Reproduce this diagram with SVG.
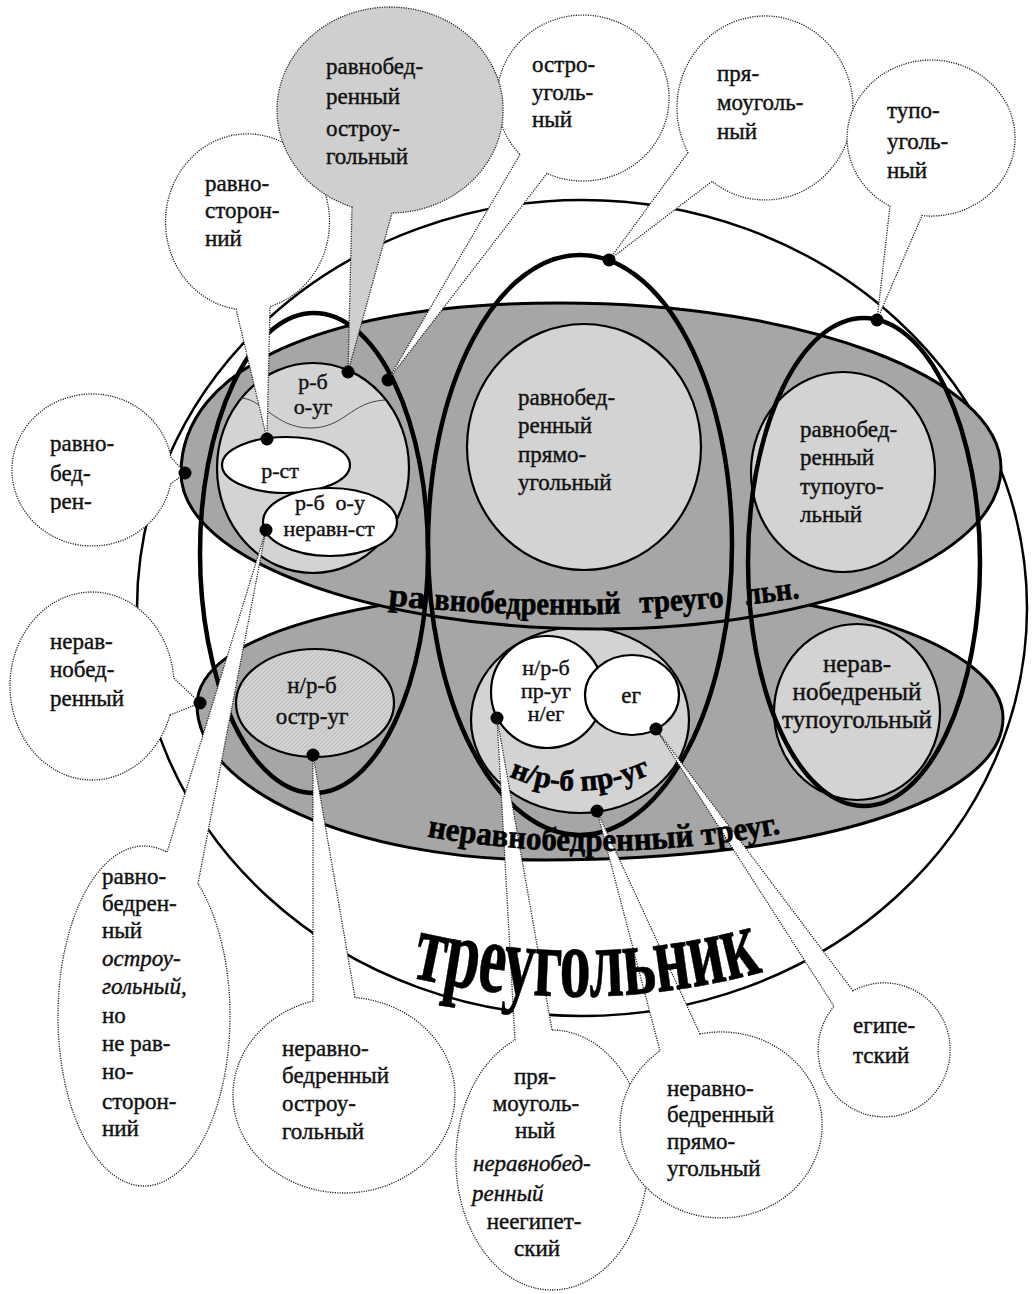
<svg xmlns="http://www.w3.org/2000/svg" width="1034" height="1294" viewBox="0 0 1034 1294">
  <style>
    .t { font-family: "Liberation Serif", "DejaVu Serif Condensed", "DejaVu Serif", serif; font-size: 23px; fill: #111; stroke: #111; stroke-width: 0.4; }
    .s { font-size: 22px; }
    .m { text-anchor: middle; }
    .i { font-style: italic; }
    .b { font-family: "Liberation Serif", "DejaVu Serif Condensed", "DejaVu Serif", serif; font-weight: bold; fill: #000; stroke: #000; stroke-width: 0.6; }
    .outer { fill: none; stroke: #000; stroke-width: 2.5; }
    .grey { fill: #a6a6a6; stroke: #000; stroke-width: 3; }
    .light { fill: #d3d3d3; stroke: #000; stroke-width: 2.2; }
    .white { fill: #fff; stroke: #000; stroke-width: 2.2; }
    .set { fill: none; stroke: #000; stroke-width: 4.5; }
    .co { fill: #fff; stroke: #222; stroke-width: 1.3; stroke-dasharray: 1.2 1.2; }
    .co.g { fill: #cfcfcf; }
    .dot { fill: #000; }
  </style>
  <defs>
    <pattern id="hatch" width="4" height="4" patternUnits="userSpaceOnUse">
      <rect width="4" height="4" fill="#d2d2d2"/>
      <path d="M0 4 L4 0" stroke="#b4b4b4" stroke-width="0.8"/>
    </pattern>
    <clipPath id="clipRb">
      <rect x="0" y="380" width="200" height="133"/>
    </clipPath>
    <path id="arcR" d="M 385 605 Q 592 627 800 598"/>
    <path id="arcN" d="M 425 836 Q 600 868 790 832"/>
    <path id="arcP" d="M 500 772 Q 580 812 665 767"/>
    <path id="arcT" d="M 405 976 Q 590 1020 770 970"/>
  </defs>

  <!-- outer set: all triangles -->
  <ellipse id="triangle" class="outer" cx="582" cy="608" rx="445" ry="408"/>

  <!-- scalene triangles (lower band) -->
  <g id="scalene">
    <path class="grey" d="M 197 705 C 197 634.8 366.2 588 620 588 C 830.7 588 1003 646.5 1003 718 C 1003 800 815 860 545 860 C 353.6 860 197 789.2 197 705 Z"/>
    <ellipse id="scalene-acute" cx="315" cy="703" rx="79" ry="54" fill="url(#hatch)" stroke="#000" stroke-width="2.2"/>
    <text class="t m" x="312" y="693">н/р-б</text>
    <text class="t m" x="312" y="724">остр-уг</text>
    <g id="scalene-right">
      <ellipse class="light" cx="580" cy="720" rx="109" ry="93"/>
      <circle class="white" cx="547" cy="692" r="56"/>
      <ellipse class="white" cx="632" cy="695" rx="47" ry="40"/>
      <text class="t s m" x="546" y="675">н/р-б</text>
      <text class="t s m" x="546" y="698">пр-уг</text>
      <text class="t s m" x="546" y="721">н/ег</text>
      <text class="t m" x="631" y="703">ег</text>
    </g>
    <g id="scalene-obtuse">
      <ellipse class="light" cx="857" cy="712" rx="83" ry="88"/>
      <text class="t m" x="857" y="672" style="font-size:25px">нерав-</text>
      <text class="t m" x="857" y="700" style="font-size:25px">нобедреный</text>
      <text class="t m" x="857" y="728" style="font-size:25px">тупоугольный</text>
    </g>
  </g>

  <!-- isosceles triangles (upper band) -->
  <g id="isosceles">
    <path class="grey" d="M 181 473 C 181 367.6 325 303 560 303 C 802.6 303 1001 377.3 1001 468 C 1001 556.6 820.6 629 600 629 C 369.5 629 181 558.8 181 473 Z"/>
    <g id="isosceles-acute">
      <ellipse class="light" cx="313" cy="468" rx="96" ry="105"/>
      <path d="M 240 398 C 262 398 275 428 310 428 C 345 428 350 402 385 400" fill="none" stroke="#444" stroke-width="1"/>
      <text class="t s m" x="313" y="389">р-б</text>
      <text class="t s m" x="313" y="414">о-уг</text>
      <ellipse class="white" cx="286" cy="465" rx="64" ry="28"/>
      <text class="t s m" x="280" y="478">р-ст</text>
      <ellipse class="white" cx="330" cy="522" rx="67" ry="34"/>
      <text class="t s m" x="330" y="510" xml:space="preserve">р-б  о-у</text>
      <text class="t s m" x="329" y="536">неравн-ст</text>
    </g>
    <g id="isosceles-right">
      <ellipse class="light" cx="584" cy="447" rx="117" ry="123"/>
      <text class="t" x="518" y="405">равнобед-</text>
      <text class="t" x="518" y="433">ренный</text>
      <text class="t" x="518" y="462">прямо-</text>
      <text class="t" x="518" y="490">угольный</text>
    </g>
    <g id="isosceles-obtuse">
      <ellipse class="light" cx="843" cy="472" rx="92" ry="100"/>
      <text class="t" x="800" y="437">равнобед-</text>
      <text class="t" x="800" y="465">ренный</text>
      <text class="t" x="800" y="494">тупоуго-</text>
      <text class="t" x="800" y="522">льный</text>
    </g>
    <text class="b" style="font-size:32px"><textPath href="#arcR" startOffset="3" textLength="37" lengthAdjust="spacingAndGlyphs">ра</textPath></text>
    <text class="b" style="font-size:32px"><textPath href="#arcR" startOffset="49" textLength="187" lengthAdjust="spacingAndGlyphs">внобедренный</textPath></text>
    <text class="b" style="font-size:32px"><textPath href="#arcR" startOffset="255" textLength="85" lengthAdjust="spacingAndGlyphs">треуго</textPath></text>
    <text class="b" style="font-size:32px"><textPath href="#arcR" startOffset="362" textLength="54" lengthAdjust="spacingAndGlyphs">льн.</textPath></text>
  </g>

  <!-- angle classes: acute, right, obtuse -->
  <g id="angle-sets">
    <ellipse id="acute" class="set" cx="314" cy="553" rx="114" ry="240"/>
    <ellipse id="right" class="set" cx="580" cy="545" rx="152" ry="290"/>
    <ellipse id="obtuse" class="set" cx="864" cy="562" rx="116" ry="244"/>
  </g>

  <text class="b" style="font-size:30px"><textPath href="#arcP" startOffset="10" textLength="146" lengthAdjust="spacingAndGlyphs">н/р-б пр-уг</textPath></text>

  <!-- callouts -->
  <g id="connectors">
    <g id="c-equilateral">
      <path class="co" d="M 236 309 L 267 439 L 270 306.5 A 82 88 0 1 0 236 309 Z"/>
      <text class="t" x="205" y="191">равно-</text>
      <text class="t" x="205" y="218">сторон-</text>
      <text class="t" x="205" y="246">ний</text>
    </g>
    <g id="c-acute">
      <path class="co" d="M 520 154.5 L 388 380 L 547 173.4 A 86 83 0 1 0 520 154.5 Z"/>
      <text class="t" x="532" y="72">остро-</text>
      <text class="t" x="532" y="100">уголь-</text>
      <text class="t" x="532" y="127">ный</text>
    </g>
    <g id="c-isosceles-acute">
      <path class="co g" d="M 352 207 L 348 372 L 392 213 A 113 103 0 1 0 352 207 Z"/>
      <text class="t" x="326" y="74">равнобед-</text>
      <text class="t" x="326" y="104">ренный</text>
      <text class="t" x="326" y="136">остроу-</text>
      <text class="t" x="326" y="164">гольный</text>
    </g>
    <g id="c-right">
      <path class="co" d="M 688 152.5 L 609 260 L 712 181.4 A 88 92 0 1 0 688 152.5 Z"/>
      <text class="t" x="717" y="81">пря-</text>
      <text class="t" x="717" y="110">моуголь-</text>
      <text class="t" x="717" y="139">ный</text>
    </g>
    <g id="c-obtuse">
      <path class="co" d="M 890 206.1 L 877 320 L 922 215.6 A 84 78 0 1 0 890 206.1 Z"/>
      <text class="t" x="887" y="118">тупо-</text>
      <text class="t" x="887" y="149">уголь-</text>
      <text class="t" x="887" y="178">ный</text>
    </g>
    <g id="c-isosceles">
      <path class="co" d="M 170.6 484 L 185 473 L 170.8 457 A 80 76 0 1 0 170.6 484 Z"/>
      <g clip-path="url(#clipRb)">
        <text class="t" x="50" y="451">равно-</text>
        <text class="t" x="50" y="481">бед-</text>
        <text class="t" x="50" y="509">рен-</text>
      </g>
    </g>
    <g id="c-scalene">
      <path class="co" d="M 170 715 L 200 703 L 173.7 678 A 82 94 0 1 0 170 715 Z"/>
      <text class="t" x="50" y="649">нерав-</text>
      <text class="t" x="50" y="677">нобед-</text>
      <text class="t" x="50" y="706">ренный</text>
    </g>
    <g id="c-isosceles-acute-nonequilateral">
      <path class="co" d="M 198 883.7 L 266 530 L 167 852.2 A 86 170 0 1 0 198 883.7 Z"/>
      <text class="t" x="102" y="884">равно-</text>
      <text class="t" x="102" y="911">бедрен-</text>
      <text class="t" x="102" y="938">ный</text>
      <text class="t i" x="102" y="966">остроу-</text>
      <text class="t" x="102" y="994"><tspan class="i">гольный</tspan>,</text>
      <text class="t" x="102" y="1023">но</text>
      <text class="t" x="102" y="1051">не рав-</text>
      <text class="t" x="102" y="1079">но-</text>
      <text class="t" x="102" y="1109">сторон-</text>
      <text class="t" x="102" y="1136">ний</text>
    </g>
    <g id="c-scalene-acute">
      <path class="co" d="M 355 997.5 L 313 755 L 313 1000.9 A 111 98 0 1 0 355 997.5 Z"/>
      <text class="t" x="282" y="1056">неравно-</text>
      <text class="t" x="282" y="1083">бедренный</text>
      <text class="t" x="282" y="1111">остроу-</text>
      <text class="t" x="282" y="1139">гольный</text>
    </g>
    <g id="c-right-scalene-non-egyptian">
      <path class="co" d="M 552 1030 L 497 718 L 515 1040 A 96 130 0 1 0 552 1030 Z"/>
      <text class="t m" x="535" y="1084">пря-</text>
      <text class="t m" x="536" y="1111">моуголь-</text>
      <text class="t m" x="535" y="1138">ный</text>
      <text class="t i" x="473" y="1171">неравнобед-</text>
      <text class="t i" x="472" y="1201">ренный</text>
      <text class="t m" x="534" y="1229">неегипет-</text>
      <text class="t m" x="537" y="1256">ский</text>
    </g>
    <g id="c-scalene-right">
      <path class="co" d="M 700 1034 L 597 811 L 660 1050.9 A 101 93 0 1 0 700 1034 Z"/>
      <text class="t" x="667" y="1096">неравно-</text>
      <text class="t" x="667" y="1122">бедренный</text>
      <text class="t" x="667" y="1149">прямо-</text>
      <text class="t" x="667" y="1176">угольный</text>
    </g>
    <g id="c-egyptian">
      <path class="co" d="M 853 990.8 L 656 729 L 834 1006.3 A 66 67 0 1 0 853 990.8 Z"/>
      <text class="t" x="853" y="1033">египе-</text>
      <text class="t" x="853" y="1063">тский</text>
    </g>
  </g>

  <text class="b" style="font-size:33px"><textPath href="#arcN" startOffset="2" textLength="356" lengthAdjust="spacingAndGlyphs">неравнобедренный треуг.</textPath></text>

  <text class="b" style="font-size:100px"><textPath href="#arcT" startOffset="6" textLength="356" lengthAdjust="spacingAndGlyphs">треугольник</textPath></text>

  <!-- anchor points -->
  <g id="anchors">
    <circle class="dot" cx="348" cy="372" r="6.5"/>
    <circle class="dot" cx="388" cy="380" r="6.5"/>
    <circle class="dot" cx="609" cy="260" r="6.5"/>
    <circle class="dot" cx="877" cy="320" r="6.5"/>
    <circle class="dot" cx="185" cy="473" r="6.5"/>
    <circle class="dot" cx="267" cy="439" r="6.5"/>
    <circle class="dot" cx="266" cy="530" r="6.5"/>
    <circle class="dot" cx="200" cy="703" r="6.5"/>
    <circle class="dot" cx="313" cy="755" r="6.5"/>
    <circle class="dot" cx="497" cy="718" r="6.5"/>
    <circle class="dot" cx="597" cy="811" r="6.5"/>
    <circle class="dot" cx="656" cy="729" r="6.5"/>
  </g>
</svg>
